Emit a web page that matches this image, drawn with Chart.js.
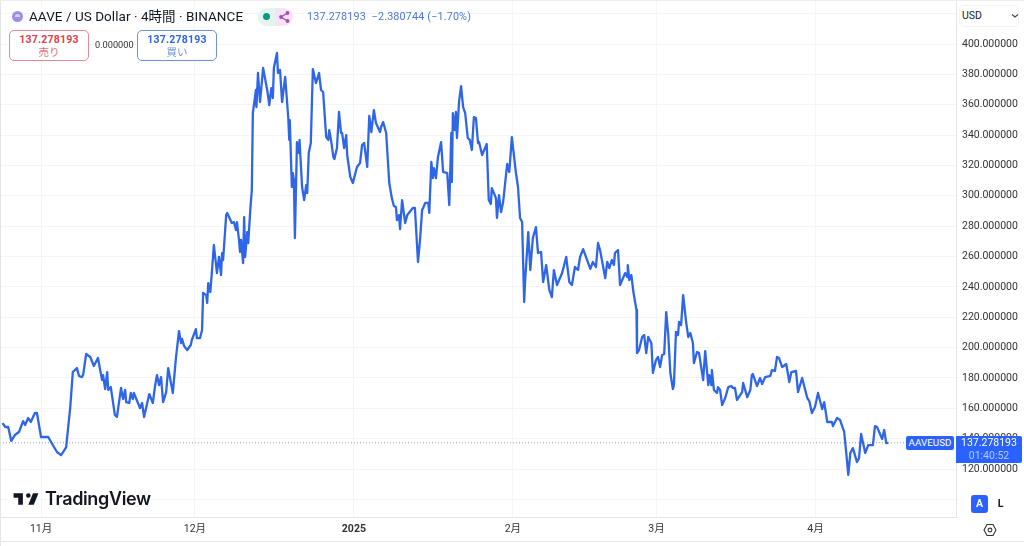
<!DOCTYPE html>
<html lang="ja">
<head>
<meta charset="utf-8">
<title>AAVE / US Dollar</title>
<script src="https://cdn.jsdelivr.net/npm/chart.js@4"></script>
<style>
html,body{margin:0;padding:0;background:#fff;overflow:hidden}
body{width:1024px;height:546px;position:relative;font-family:Roboto,"Noto Sans CJK JP",sans-serif;color:#131722}
#wrap{position:absolute;left:0;top:0;width:1024px;height:541px}
.abs{position:absolute;white-space:nowrap}
.box{position:absolute;top:30px;width:78px;border-radius:5px;background:#fff;text-align:center;font-size:10.5px;line-height:13px;padding-top:2px;height:27px}
.box b{display:block;font-weight:700;letter-spacing:.2px}
</style>
</head>
<body>
<div id="wrap"><canvas id="chart"></canvas></div>

<!-- frame lines -->
<div class="abs" style="left:0;top:0;width:1px;height:546px;background:#e4e4e4"></div>
<div class="abs" style="left:0;top:0;width:1024px;height:1px;background:#eee"></div>
<div class="abs" style="left:0;top:541px;width:1024px;height:1px;background:#e6e6e6"></div>

<!-- header -->
<div class="abs" style="left:12px;top:11px;width:11px;height:11px;border-radius:50%;background:#9b8fe8"></div>
<div class="abs" style="left:15px;top:14px;width:5px;height:3px;border-radius:3px 3px 0 0;background:#d9d4fa"></div>
<div class="abs" id="title" style="left:29px;top:8px;font-size:13.5px;line-height:17px;letter-spacing:.05px">AAVE / US Dollar · 4時間 · BINANCE</div>
<div class="abs" style="left:258px;top:8px;width:17px;height:18px;border-radius:9px 0 0 9px;background:#e3f4ef"></div>
<div class="abs" style="left:275px;top:8px;width:18px;height:18px;border-radius:0 9px 9px 0;background:#f6e4f6"></div>
<div class="abs" style="left:263px;top:13px;width:7px;height:7px;border-radius:50%;background:#089981"></div>
<svg class="abs" style="left:277px;top:10px" width="14" height="14" viewBox="0 0 14 14"><path d="M10.5 3 4 7l6.5 4" fill="none" stroke="#ab47bc" stroke-width="1.3"/><circle cx="10.5" cy="3" r="1.9" fill="#ab47bc"/><circle cx="4" cy="7" r="1.9" fill="#ab47bc"/><circle cx="10.5" cy="11" r="1.9" fill="#ab47bc"/></svg>
<div class="abs" style="left:307px;top:9px;font-size:10.8px;line-height:15px;color:#4c78d8;letter-spacing:.15px">137.278193&nbsp; −2.380744 (−1.70%)</div>

<div class="box" style="left:9px;border:1px solid #e58a8f;color:#d9434e"><b>137.278193</b><span style="color:#e0737a">売り</span></div>
<div class="abs" style="left:95px;top:38px;font-size:9.2px;line-height:13px;color:#333">0.000000</div>
<div class="box" style="left:137px;border:1px solid #6f90d8;color:#2f66d8"><b>137.278193</b><span style="color:#6d8fdc">買い</span></div>

<!-- currency selector -->
<div class="abs" style="left:959px;top:5px;width:60px;height:22px;border-radius:4px;background:#fff;border:1px solid #f3f3f3;box-sizing:border-box"></div>
<div class="abs" style="left:962px;top:9px;font-size:10.5px;line-height:14px;color:#222">USD</div>
<svg class="abs" style="left:1011px;top:13px" width="8" height="6" viewBox="0 0 8 6"><path d="M1 1.5 4 4l3-2.5" fill="none" stroke="#444" stroke-width="1.1"/></svg>

<!-- watermark -->
<svg class="abs" style="left:12px;top:491px" width="28" height="16" viewBox="0 5 36 17"><path fill="#131722" d="M14 6H2v6h6v9h6V6zm14 15h-7l6-15h7l-6 15zm-7-9a3 3 0 1 0 0-6 3 3 0 0 0 0 6z"/></svg>
<div class="abs" style="left:45px;top:488px;font-family:Inter,Roboto,sans-serif;font-size:18px;line-height:22px;font-weight:600;letter-spacing:-.35px;color:#131722">TradingView</div>

<!-- last price tags (over the chart canvas) -->
<div class="abs" style="left:906px;top:436px;width:48px;height:14px;border-radius:2px;background:#2962ff;color:#fff;font-size:9.8px;line-height:14px;text-align:center">AAVEUSD</div>
<div class="abs" style="left:956px;top:436px;width:66px;height:27px;border-radius:0 2px 2px 0;background:#2962ff;color:#fff;font-size:10.5px;line-height:13px;text-align:center">137.278193<br><span style="color:#b9c9fb">01:40:52</span></div>

<!-- scale buttons -->
<div class="abs" style="left:971px;top:495px;width:17px;height:18px;border-radius:3px;background:#2962ff;color:#fff;font-size:10.5px;line-height:18px;font-weight:700;text-align:center">A</div>
<div class="abs" style="left:992px;top:495px;width:17px;height:18px;color:#131722;font-size:10.5px;line-height:18px;font-weight:700;text-align:center">L</div>
<svg class="abs" style="left:983px;top:523px" width="14" height="14" viewBox="0 0 14 14"><path d="M4 1.5h6L13 7l-3 5.5H4L1 7z" fill="none" stroke="#333" stroke-width="1.1"/><circle cx="7" cy="7" r="1.9" fill="none" stroke="#333" stroke-width="1.1"/></svg>

<script>
// AAVEUSD. days = days since 1 Nov 2024
const days = [-7.5,-7,-6.4,-5.8,-5.1,-4.3,-3.5,-3.1,-2.5,-2,-1.2,-0.8,0,1.4,2.3,3.1,3.9,4.3,4.9,5.7,6.2,7,7.4,8,8.2,8.8,9.6,10.3,11.1,11.9,12.1,12.5,12.9,13.1,13.6,14.4,14.8,15.6,16,16.4,16.6,17.2,17.5,17.9,18.1,19.3,19.7,20.1,21.1,21.8,22.2,22.6,23,23.4,23.8,24.4,24.8,25.7,26.3,26.9,27.3,27.5,27.9,28.5,29.2,29.4,
  30.2,30.4,31,31.4,31.6,32.2,32.4,32.6,33,33.3,33.7,34.3,34.7,35.1,35.3,35.5,36.1,36.3,37.2,37.6,38,38.2,38.6,38.8,39,39.4,39.6,39.8,40.2,40.4,40.8,41.1,41.3,41.9,42,42.3,42.7,43.3,44.1,44.3,44.5,44.9,45.2,45.4,46,46.2,46.6,47,47.6,48.2,48.4,48.5,48.9,49.1,49.3,49.5,49.9,50.3,50.4,50.9,51.3,51.7,51.9,52.2,52.6,53,53.6,53.8,54.2,54.6,55,55.6,56,56.2,56.6,57,57.2,57.7,58.1,58.5,58.7,59.1,59.5,59.7,60.3,60.8,
  61.6,62.2,62.6,63,63.6,64,64.4,64.9,65.3,66.1,66.3,66.7,67.3,67.5,67.9,68.4,68.8,69.2,69.4,69.8,70,70.4,71,71.4,72.5,72.9,73.5,73.9,74.3,74.5,74.9,75.5,75.7,76.1,76.4,76.6,77,77.4,78,78.4,79.2,79.6,80,80.1,80.3,80.7,80.9,81.1,81.5,81.9,82.3,82.7,83.2,83.6,84,84.4,84.8,85.2,85.4,86,86.9,87.3,87.7,87.9,88.7,88.9,89.3,89.7,90.1,90.7,90.9,91.3,91.8,
  92.6,93,93.4,93.8,94.2,94.4,95,95.4,95.7,95.9,96.5,96.9,97.5,97.9,98.5,99.1,99.6,100,100.6,101.6,102.4,103,103.5,104.1,104.7,105.1,105.7,107.1,107.6,108.2,108.6,109,110,110.4,110.8,111.3,111.7,111.9,112.5,112.9,113.9,114.3,114.4,114.7,115.1,115.5,116.1,116.2,116.6,117.2,117.6,118,118.4,119,119.3,
  119.9,120.3,120.7,121.1,121.5,121.9,122.3,122.7,123.2,123.4,123.8,124.2,124.4,124.8,125.2,125.8,126.2,126.6,127.1,127.3,127.9,128.3,129.1,129.5,130.1,130.3,130.7,130.8,131.2,131.8,132,132.4,132.8,133.4,134,134.6,134.9,135.3,135.7,136.7,136.9,137.7,138.3,138.6,138.8,139.6,140.2,140.6,141.2,142.2,142.5,143.1,143.5,143.9,144.5,145.3,145.9,146.3,147.2,147.6,148.4,149.4,149.8,
  150.3,150.9,151.5,152.3,152.7,153.3,154.2,154.4,155.2,155.8,156.6,157,157.4,157.8,158.3,159.1,159.5,159.9,160.7,161.3,162.2,162.6,163,164,164.4,164.8,165.2];
const prices = [150.3,147.7,147.7,138.5,142.4,144.4,151.6,149,153.6,151,156.9,156.9,141.1,141.1,135.8,131.2,129.2,131.2,134.5,160.9,183.9,186.5,181.3,180.6,181.9,195.8,193.8,187.9,193.1,178.6,181.9,172.7,183.9,172.1,174,155.6,154.3,173.4,166.1,172.1,164.1,163.5,170.1,166.1,170.1,160.2,163.5,154.3,169.4,163.5,174,181.9,175.3,180.6,164.1,170.7,186.5,170.1,193.1,210.9,203,205.7,201,198.4,201.7,205,
  212.2,206.3,206.3,211.6,236,234.6,229.4,242.5,236.6,249.1,267.6,249.1,259.7,247.8,262.3,257.7,287.3,288.7,282.1,282.7,277.5,282.7,270.9,263,270.9,255.7,286,259.7,276.1,268.9,290.6,303.8,354.5,369.7,358.5,380.9,361.8,384.2,369.7,365.1,359.8,371,364.4,384.2,394.1,380.9,382.9,361.8,378.3,351.9,336.8,349.9,305.8,315,310.4,272.2,335.4,328.2,336.8,305.8,297.2,307.1,301.8,328.2,334.8,383.5,374.3,376.3,380.9,369.7,368.4,338.7,336.8,343.3,335.4,325.6,324.2,331.5,355.2,341.4,341.4,331.5,340,326.9,312.4,308.4,
  319,321.6,333.5,334.8,319,352.6,342,356.5,348,342,345.3,348.6,341.4,330.2,308.4,298.5,293.3,292.6,284,287.3,278.1,297.2,282.1,287.3,292,292,256.4,270.9,290.6,292,295.3,295.3,288.7,322.3,311.7,318.3,311.7,325.6,335.4,315.7,315,293.9,341.4,309.1,354.5,343.3,355.2,338.1,361.8,372.3,358.5,354.5,338.1,336.8,330.2,351.9,351.2,334.8,335.4,326.9,334.1,297.2,294.6,305.1,298.5,285.4,300.5,289.3,295.9,315,321,315.7,338.7,
  315,305.8,285.4,282.7,230,244.5,276.1,251.1,264.3,272.2,279.4,262.3,263,243.2,254.4,238,233.3,251.1,241.2,249.1,259.7,243.2,241.2,253.1,251.1,259.7,264.9,251.8,256.4,253.1,268.9,264.3,245.8,256.4,252.4,257.7,254.4,262.3,264.3,241.2,249.1,246.5,254.4,244.5,247.8,236.6,224.8,196.4,198.4,207,208.3,196.4,207,203,183.3,
  191.8,193.8,187.2,195.1,195.8,223.4,208.3,183.3,172.7,175.3,210.3,208.3,216.9,214.9,234.6,216.2,207,209.6,203,189.8,197.1,196.4,178.6,197.7,175.3,181.9,175.3,185.2,172.1,170.1,174,172.1,162.2,166.8,174,174.7,173.4,173.4,165.5,170.7,176.7,167.4,172.1,181.9,182.6,174.7,180,176,180.6,181.3,185.2,184.6,193.8,193.1,187.2,189.2,177.3,183.9,184.6,170.7,180,166.8,164.8,
  156.9,160.9,170.1,159.5,164.1,151,151,148.3,153.6,152.3,144.4,130.6,116.1,130.6,133.8,124.6,127.3,143.1,130.6,135.8,135.8,148.3,147.7,139.8,145.7,137.1,137.28];

const lastPrice = 137.278193;
const lastPriceSpan = [-8, 168.4];

const priceTicks = [120,140,160,180,200,220,240,260,280,300,320,340,360,380,400];
const gridOnlyTicks = [100,420];
const monthDays = [0,30,61,92,120,151];
const monthLabels = ['11月','12月','2025','2月','3月','4月'];

const GRID = '#f4f5f7';

new Chart(document.getElementById('chart'), {
  type: 'line',
  data: {
    datasets: [
      {
        data: days.map((d,i)=>({x:d, y:prices[i]})),
        borderColor: '#2f66e8',
        borderWidth: 2.3,
        pointRadius: 0,
        tension: 0,
        borderJoinStyle: 'round',
        order: 1
      },
      {
        data: lastPriceSpan.map(d=>({x:d, y:lastPrice})),
        borderColor: '#9aa3ad',
        borderWidth: 1,
        borderDash: [1,2],
        pointRadius: 0,
        order: 2
      }
    ]
  },
  options: {
    responsive: true,
    maintainAspectRatio: false,
    animation: false,
    layout: {padding: 0},
    plugins: {legend: {display:false}, tooltip: {enabled:false}},
    scales: {
      x: {
        type: 'linear',
        min: -8,
        max: 178.4,
        afterFit: s => { s.height = 24; s.paddingLeft = 0; s.paddingRight = 0; },
        afterBuildTicks: s => { s.ticks = monthDays.map(v=>({value:v})); },
        grid: {color: GRID, drawTicks:false},
        border: {color: '#e3e3e3'},
        ticks: {
          autoSkip: false,
          maxRotation: 0,
          padding: 6,
          color: '#333',
          font: c => ({family:'Roboto,"Noto Sans CJK JP",sans-serif', size:10.5, weight: c.tick && c.tick.value === 61 ? '700' : '400'}),
          callback: v => monthLabels[monthDays.indexOf(v)] ?? ''
        }
      },
      y: {
        position: 'right',
        min: 88.4,
        max: 429,
        afterFit: s => { s.width = 68; s.paddingTop = 0; s.paddingBottom = 0; },
        afterBuildTicks: s => { s.ticks = priceTicks.concat(gridOnlyTicks).sort((a,b)=>a-b).map(v=>({value:v})); },
        grid: {color: GRID, drawTicks:false},
        border: {color: '#e3e3e3'},
        ticks: {
          autoSkip: false,
          padding: 6,
          color: '#333',
          font: {family:'Roboto,sans-serif', size:10.5},
          callback: v => priceTicks.includes(v) ? v.toFixed(6) : ''
        }
      }
    }
  }
});
</script>
</body>
</html>
